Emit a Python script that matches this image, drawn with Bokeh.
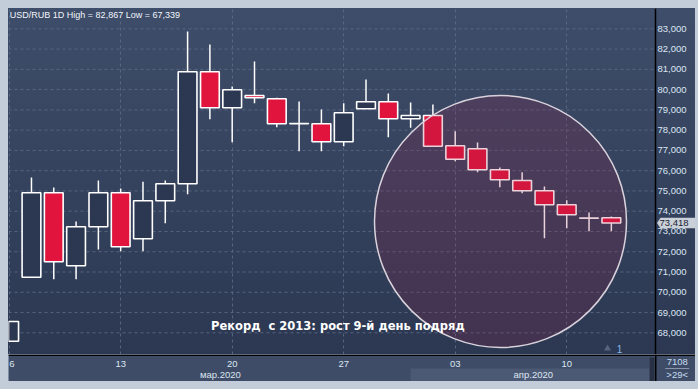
import numpy as np
from bokeh.plotting import figure
from bokeh.models import (Range1d, LinearAxis, FixedTicker, NumeralTickFormatter,
                          Spacer, ColumnDataSource, Grid)
from bokeh.layouts import column, row
from bokeh.embed import file_html
from bokeh.resources import INLINE
from bokeh.core.properties import value

# ---------------- data ----------------
dates = ["2020-03-06", "2020-03-09", "2020-03-10", "2020-03-11", "2020-03-12", "2020-03-13",
         "2020-03-16", "2020-03-17", "2020-03-18", "2020-03-19", "2020-03-20",
         "2020-03-23", "2020-03-24", "2020-03-25", "2020-03-26", "2020-03-27",
         "2020-03-30", "2020-03-31", "2020-04-01", "2020-04-02", "2020-04-03",
         "2020-04-06", "2020-04-07", "2020-04-08", "2020-04-09", "2020-04-10",
         "2020-04-13", "2020-04-14"]
opens = [67586, 70744, 74908, 71306, 73231, 74908, 72639, 74514, 75352, 80878, 79102,
         79709, 79546, 78313, 78313, 77425, 79053, 79398, 78559, 78722, 77227,
         77079, 76043, 75515, 75007, 74316, 73655, 73675]
highs = [68558, 75663, 75170, 73492, 75515, 75120, 75451, 75515, 82867, 82225, 80153,
         81387, 79596, 79413, 79018, 79329, 80498, 79808, 79364, 79265, 77948,
         77390, 76157, 75925, 75219, 74543, 73936, 73739]
lows = [67586, 70720, 70645, 70645, 72111, 72027, 72027, 73408, 74839, 78540, 77405,
        79329, 78145, 76961, 76961, 77207, 79053, 77652, 78115, 77200, 76467,
        75925, 75185, 74889, 72668, 73162, 73014, 73014]
closes = [68558, 74908, 71504, 73231, 74908, 72244, 74514, 75352, 80878, 79102, 79990,
          79596, 78313, 78328, 77425, 78855, 79398, 78559, 78722, 77207, 76566,
          76043, 75550, 75007, 74316, 73823, 73660, 73418]

y_ticks = [68000, 69000, 70000, 71000, 72000, 73000, 74000, 75000,
           76000, 77000, 78000, 79000, 80000, 81000, 82000, 83000]
day_tick_idx = [0, 5, 10, 15, 20, 25]
day_tick_labels = ["6", "13", "20", "27", "03", "10"]
month_labels = ["мар.2020", "апр.2020"]
month_pos = [9.47, 23.5]
april_span = [18.0, 28.71]

symbol = "USD/RUB 1D"
period_high = "82,867"
period_low = "67,339"
last_price = 73418
annotation_text = "Рекорд\u00a0 с 2013: рост 9-й день подряд"
circle_center_idx = [22.03]
circle_center_val = [73492]
marker_count = ["1"]
corner_top = "7108"
corner_bottom = ">29<"

FONT = "Liberation Sans"

# ---------------- geometry ----------------
n = len(opens)
idx = np.arange(n)
x_start, x_end = -0.03, 28.98          # plotting area (left of the price scale)
y_lo, y_hi = 66930, 84002
px_per_unit = 647 / (x_end - x_start)
full_end = x_start + 687 / px_per_unit  # includes the price-scale strip
val_per_px = (y_hi - y_lo) / 346

# ---------------- main chart ----------------
p = figure(width=687, height=346, x_range=Range1d(x_start, full_end),
           y_range=Range1d(y_lo, y_hi), output_backend="svg", toolbar_location=None,
           x_axis_location=None, y_axis_location=None,
           min_border_left=0, min_border_top=0, min_border_bottom=0, min_border_right=0)
p.background_fill_color = None
p.border_fill_color = None
p.outline_line_color = None
p.styles = {"background": "linear-gradient(180deg, #3e4d69 0%, #2c3852 100%)"}
p.center = [r for r in p.center if not isinstance(r, Grid)]

gx = Grid(dimension=0, ticker=FixedTicker(ticks=day_tick_idx), grid_line_color="#5d6b86",
          grid_line_dash="3 3", grid_line_width=1, grid_line_alpha=0.85)
p.add_layout(gx)
# horizontal grid lines only across the plotting area
p.segment(x0=[x_start] * len(y_ticks), y0=y_ticks, x1=[x_end] * len(y_ticks), y1=y_ticks,
          line_color="#5d6b86", line_dash="3 3", line_width=1, line_alpha=0.85)

yax = LinearAxis(ticker=FixedTicker(ticks=y_ticks), formatter=NumeralTickFormatter(format="0,0"),
                 fixed_location=x_end)
yax.axis_line_color = "black"
yax.axis_line_width = 1.5
yax.major_tick_line_color = None
yax.minor_tick_line_color = None
yax.major_tick_out = 0
yax.major_tick_in = 0
yax.major_label_standoff = 2
yax.major_label_text_color = "#dbe6f3"
yax.major_label_text_font = FONT
yax.major_label_text_font_size = "9.5px"
p.add_layout(yax, "right")

src = ColumnDataSource(dict(x=idx, o=opens, h=highs, l=lows, c=closes,
                            top=np.maximum(opens, closes), bot=np.minimum(opens, closes)))
up = [i for i in range(n) if closes[i] >= opens[i]]
dn = [i for i in range(n) if closes[i] < opens[i]]
src_up = ColumnDataSource({k: np.asarray(v)[up] for k, v in src.data.items()})
src_dn = ColumnDataSource({k: np.asarray(v)[dn] for k, v in src.data.items()})

p.segment(x0="x", y0="l", x1="x", y1="h", source=src, line_color="white", line_width=1.5)
p.vbar(x="x", top="top", bottom="bot", width=0.84, source=src_up,
       fill_color="#2c3852", line_color="white", line_width=1.6)
p.vbar(x="x", top="top", bottom="bot", width=0.84, source=src_dn,
       fill_color="#e0143c", line_color="white", line_width=1.6)

# highlight circle
p.scatter(x=circle_center_idx, y=circle_center_val, marker="circle", size=252,
          fill_color="#9a1e44", fill_alpha=0.2, line_color="#d9d2dc", line_width=1.5)

# title
p.text(x=[x_start + 0.06], y=[83671],
       text=[f"{symbol} High = {period_high} Low = {period_low}"],
       text_font=value(FONT), text_font_size="9px", text_color="#f2f5fa",
       text_align="left", text_baseline="middle")

# annotation
p.text(x=[14.74], y=[68326], text=[annotation_text], text_font=value("DejaVu Sans"),
       text_font_size="11.5px", text_font_style="bold", text_color="white",
       text_align="center", text_baseline="middle")

# small marker "1"
p.scatter(x=[26.83], y=[67226], marker="triangle", size=7, fill_color="#55637e", line_color=None)
p.text(x=[27.37], y=[67177], text=marker_count, text_font=value(FONT), text_font_size="10px",
       text_color="#86b8ea", text_align="center", text_baseline="middle")

# last price tag on the price scale
u = 1 / px_per_unit
tag_xs = [x_end + 1.5 * u, x_end + 5 * u, full_end, full_end, x_end + 5 * u]
tag_ys = [last_price, last_price + 5.2 * val_per_px, last_price + 5.2 * val_per_px,
          last_price - 5.2 * val_per_px, last_price - 5.2 * val_per_px]
r1 = p.patch(x=tag_xs, y=tag_ys, fill_color="#c9d0d8", line_color=None)
r2 = p.text(x=[x_end + 4 * u], y=[last_price], text=[f"{last_price:,}"], text_font=value(FONT),
            text_font_size="9.5px", text_color="#1b2236", text_align="left",
            text_baseline="middle")
r1.level = "overlay"
r2.level = "overlay"

# ---------------- bottom strip ----------------
pb = figure(width=687, height=27, x_range=Range1d(x_start, full_end), y_range=Range1d(27, 0),
            output_backend="svg", toolbar_location=None,
            x_axis_location=None, y_axis_location=None,
            min_border_left=0, min_border_top=0, min_border_bottom=0, min_border_right=0)
pb.background_fill_color = "#3e4c67"
pb.border_fill_color = "#3e4c67"
pb.outline_line_color = None
pb.center = [r for r in pb.center if not isinstance(r, Grid)]

pb.quad(left=[april_span[0]], right=[april_span[1]], top=[14], bottom=[27],
        fill_color="#4b5975", line_color=None)
pb.quad(left=[28.72], right=[28.93], top=[3], bottom=[27], fill_color="#283043", line_color=None)
pb.segment(x0=[x_end + 0.01], y0=[0], x1=[x_end + 0.01], y1=[27], line_color="black", line_width=1.5)
pb.segment(x0=[x_start], y0=[0.7], x1=[full_end], y1=[0.7], line_color="black", line_width=1.5)

aligns = ["left" if i == 0 else "center" for i in range(len(day_tick_idx))]
pb.text(x=day_tick_idx, y=[9] * len(day_tick_idx), text=day_tick_labels,
        text_align=aligns, text_baseline="middle", text_font=value(FONT),
        text_font_size="9.5px", text_color="#dde6f1")
pb.text(x=month_pos, y=[19.6, 19.6], text=month_labels, text_align="center",
        text_baseline="middle", text_font=value(FONT), text_font_size="9.5px",
        text_color="#dde6f1")

cx = x_end + (677 - 655.3) * u
pb.text(x=[cx], y=[7.8], text=[corner_top], text_align="center", text_baseline="middle",
        text_font=value(FONT), text_font_size="9.5px", text_color="#c6dcf2")
pb.segment(x0=[cx - 12 * u], y0=[14], x1=[cx + 12 * u], y1=[14],
           line_color="#8a97ad", line_width=1)
pb.text(x=[cx], y=[19.6], text=[corner_bottom], text_align="center", text_baseline="middle",
        text_font=value(FONT), text_font_size="9.5px", text_color="#c6dcf2")

inner = column(p, pb, spacing=0)
layout = column(Spacer(height=8, width=698),
                row(Spacer(width=8, height=373), inner, Spacer(width=3, height=373)),
                Spacer(height=8, width=698),
                styles={"background-color": "#c2cdd9"})

open("out.html", "w").write(file_html(layout, INLINE))
